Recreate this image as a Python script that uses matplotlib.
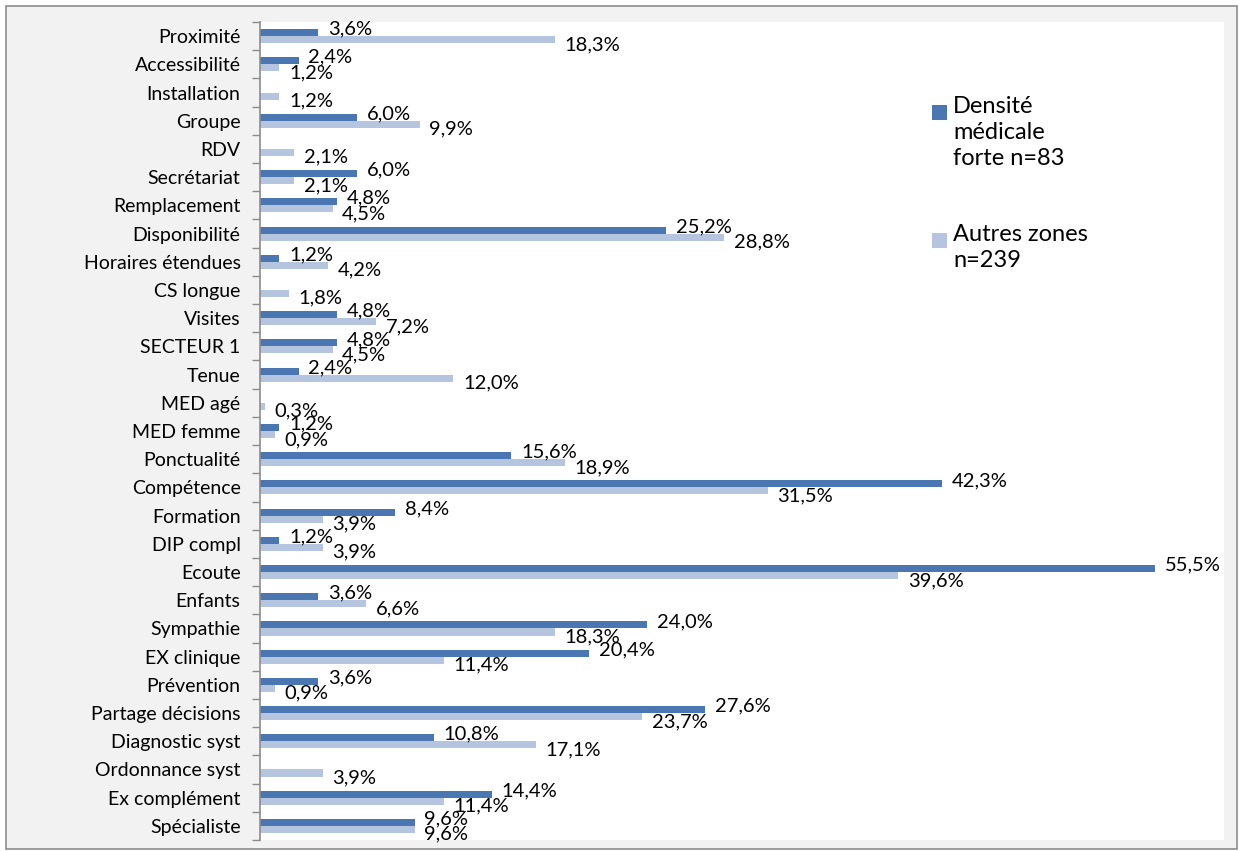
import numpy as np
import matplotlib
matplotlib.use("Agg")
import matplotlib.pyplot as plt
from matplotlib.patches import Rectangle

plt.rcParams['font.family'] = ['Lato', 'DejaVu Sans']

categories = ["Proximité", "Accessibilité", "Installation", "Groupe", "RDV",
              "Secrétariat", "Remplacement", "Disponibilité", "Horaires étendues",
              "CS longue", "Visites", "SECTEUR 1", "Tenue", "MED agé", "MED femme",
              "Ponctualité", "Compétence", "Formation", "DIP compl", "Ecoute",
              "Enfants", "Sympathie", "EX clinique", "Prévention",
              "Partage décisions", "Diagnostic syst", "Ordonnance syst",
              "Ex complément", "Spécialiste"]
dense = [3.6, 2.4, 0, 6.0, 0, 6.0, 4.8, 25.2, 1.2, 0, 4.8, 4.8, 2.4, 0, 1.2,
         15.6, 42.3, 8.4, 1.2, 55.5, 3.6, 24.0, 20.4, 3.6, 27.6, 10.8, 0, 14.4, 9.6]
others = [18.3, 1.2, 1.2, 9.9, 2.1, 2.1, 4.5, 28.8, 4.2, 1.8, 7.2, 4.5, 12.0, 0.3, 0.9,
          18.9, 31.5, 3.9, 3.9, 39.6, 6.6, 18.3, 11.4, 0.9, 23.7, 17.1, 3.9, 11.4, 9.6]
series_names = ["Densité\nmédicale\nforte n=83", "Autres zones\nn=239"]

dark = '#4a77b2'
light = '#b5c4df'

fig = plt.figure(figsize=(12.39, 8.51), dpi=100)
fig.patch.set_facecolor('white')
fig.patches.append(Rectangle((6 / 1239, 2 / 851), 1231 / 1239, 843 / 851,
                             transform=fig.transFigure, facecolor='#f2f2f2',
                             edgecolor='#8c8c8c', linewidth=1.2, zorder=-10))

ax = fig.add_axes([260 / 1239, 11 / 851, 964 / 1239, 818 / 851])
ax.set_facecolor('white')

y = np.arange(len(categories))
h = 0.25
ax.barh(y - h / 2, dense, height=h, color=dark)
ax.barh(y + h / 2, others, height=h, color=light)

for i, (a, b) in enumerate(zip(dense, others)):
    if a > 0:
        ax.annotate(f"{a:.1f}".replace('.', ',') + '%', (a, i - h / 2),
                    xytext=(7, 2.5), textcoords='offset points',
                    ha='left', va='center', fontsize=14.5, color='black')
    if b > 0:
        ax.annotate(f"{b:.1f}".replace('.', ',') + '%', (b, i + h / 2),
                    xytext=(7, -3.5), textcoords='offset points',
                    ha='left', va='center', fontsize=14.5, color='black')

ax.set_xlim(0, 59.8)
ax.set_ylim(len(categories) - 0.5, -0.5)
ax.set_yticks(y)
ax.set_yticklabels(categories, fontsize=14)
ax.set_yticks(np.arange(-0.5, len(categories)), minor=True)
ax.tick_params(axis='y', which='major', length=0, pad=14)
ax.tick_params(axis='y', which='minor', length=6, color='#8c8c8c', width=1)
ax.set_xticks([])
for s in ['top', 'right', 'bottom']:
    ax.spines[s].set_visible(False)
ax.spines['left'].set_color('#8c8c8c')
ax.spines['left'].set_linewidth(1.2)

# legend
for (ytop, col, name) in [(105, dark, series_names[0]), (233, light, series_names[1])]:
    fig.patches.append(Rectangle((932 / 1239, 1 - (ytop + 15) / 851), 15 / 1239, 15 / 851,
                                 transform=fig.transFigure, facecolor=col, edgecolor='none'))
    fig.text(953 / 1239, 1 - (ytop - 9) / 851, name, fontsize=17, va='top', ha='left',
             linespacing=1.3)

fig.savefig('out.png', dpi=100, facecolor=fig.get_facecolor())
